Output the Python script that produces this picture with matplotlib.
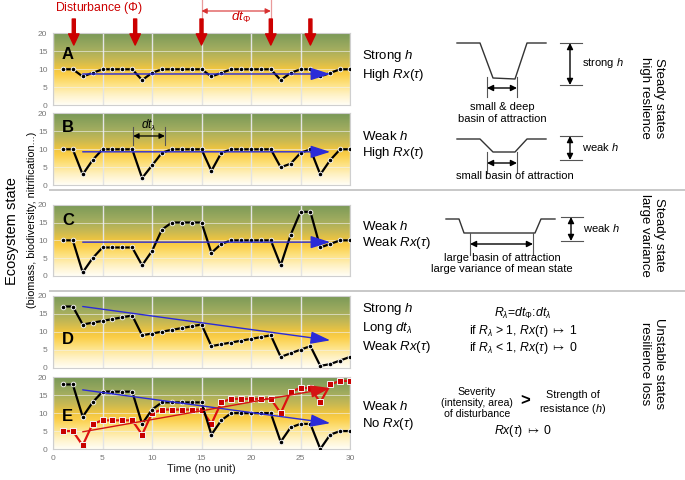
import numpy as np
import matplotlib
matplotlib.use('Agg')
import matplotlib.pyplot as plt
from matplotlib.colors import LinearSegmentedColormap
from matplotlib.transforms import blended_transform_factory

plt.rcParams['font.family'] = ['Liberation Sans', 'DejaVu Sans']
plt.rcParams['mathtext.fontset'] = 'custom'
plt.rcParams['mathtext.rm'] = 'Liberation Sans'
plt.rcParams['mathtext.it'] = 'Liberation Sans:italic'
plt.rcParams['mathtext.bf'] = 'Liberation Sans:bold'
plt.rcParams['mathtext.fallback'] = 'stixsans'

# ---------------- data ----------------
time = list(range(1, 31))
state_A = [10, 10, 8, 9, 10, 10, 10, 10, 7, 9, 10, 10, 10, 10, 10, 8, 9, 10, 10, 10,
           10, 10, 7, 9, 10, 10, 8, 9, 10, 10]
state_B = [10, 10, 3, 7, 10, 10, 10, 10, 2, 5.5, 9, 10, 10, 10, 10, 4, 9, 10, 10, 10,
           10, 10, 5, 6, 9, 10, 3, 7, 10, 10]
state_C = [10, 10, 1, 5, 8, 8, 8, 8, 3, 7, 13, 15, 15, 15, 15, 6.5, 9, 10, 10, 10,
           10, 10, 3, 11.5, 18, 18, 8, 9, 10, 10]
state_D = [17, 17, 12, 12.5, 13, 13.5, 14, 14.5, 9, 9.5, 10, 10.5, 11, 11.5, 12, 6, 6.5,
           7, 7.5, 8, 8.5, 9, 3, 4, 5, 6, 0.5, 1, 2, 3]
state_E_black = [18, 18, 9, 13, 16, 16, 16, 16, 7, 11, 13, 13, 13, 13, 13, 4, 8, 10, 10,
                 10, 10, 10, 2, 6, 7, 7, 0, 4, 5, 5]
state_E_red = [5, 5, 1, 7, 8, 8, 8, 8, 4, 10, 11, 11, 11, 11, 11, 7, 13, 14, 14, 14, 14,
               14, 10, 16, 17, 17, 13, 18, 19, 19]

# trend arrows: (t_start, y_start, t_end, y_end)
trend_A = (3, 8.7, 28, 8.7)
trend_B = (3, 9.3, 28, 9.3)
trend_C = (3, 9.5, 28, 9.5)
trend_D = (3, 17.0, 28, 7.6)
trend_E_black = (3, 16.5, 28, 7.2)
trend_E_red = (3, 4.8, 28, 17.0)

disturb_times = [2.1, 8.3, 15, 22, 26]
dt_phi = (15, 22)
dt_lambda = (8.1, 11.3)

x_ticks = [0, 5, 10, 15, 20, 25, 30]
y_ticks = [0, 5, 10, 15, 20]

# ---------------- figure ----------------
W, H = 685, 480
fig = plt.figure(figsize=(W / 100, H / 100), dpi=100)


def rect(top, bottom, left=53, right=350):
    return [left / W, 1 - bottom / H, (right - left) / W, (bottom - top) / H]


cmap = LinearSegmentedColormap.from_list('bg', [
    (0.0, '#fffef6'), (0.15, '#fff1c2'), (0.3, '#fde07c'), (0.42, '#fbce48'),
    (0.5, '#efc541'), (0.62, '#c9b952'), (0.78, '#a0ac5f'), (1.0, '#789857')])
grad = np.linspace(0, 1, 256).reshape(-1, 1)

panel_rows = [(33.3, 105.3), (113.3, 185.3), (204.7, 276.0), (295.7, 367.7), (377.3, 449.0)]
panel_letters = ['A', 'B', 'C', 'D', 'E']
letter_y = [14, 16, 15.7, 7.7, 9]
panel_data = [state_A, state_B, state_C, state_D, state_E_black]
panel_trend = [trend_A, trend_B, trend_C, trend_D, trend_E_black]

axes = []
for i, (top, bot) in enumerate(panel_rows):
    ax = fig.add_axes(rect(top, bot))
    ax.imshow(grad, extent=[0, 30, 0, 20], aspect='auto', cmap=cmap, origin='lower',
              zorder=0, interpolation='bicubic')
    ax.set_xlim(0, 30)
    ax.set_ylim(0, 20)
    ax.set_xticks(x_ticks)
    ax.set_yticks(y_ticks)
    ax.set_axisbelow(True)
    ax.xaxis.grid(True, color='#e4e4e4', lw=1.0)
    ax.yaxis.grid(True, color='#f2f2f2', lw=0.6, alpha=0.7)
    for s in ax.spines.values():
        s.set_color('#cfcfcf')
        s.set_linewidth(0.8)
    ax.tick_params(length=0, labelsize=6, labelcolor='#777777', pad=4)
    if i < 4:
        ax.tick_params(labelbottom=False)
    ax.plot(time, panel_data[i], color='black', lw=1.6, marker='o', ms=3.3,
            mfc='black', mec='#f4f4f4', mew=0.7, zorder=3)
    t0, y0, t1, y1 = panel_trend[i]
    ax.annotate('', xy=(t1, y1), xytext=(t0, y0),
                arrowprops=dict(arrowstyle='-|>,head_length=1.0,head_width=0.32',
                                color='#2b2bd8', lw=1.0, shrinkA=0, shrinkB=0,
                                mutation_scale=12), zorder=4)
    ax.text(0.9, letter_y[i], panel_letters[i], fontsize=12, fontweight='bold',
            ha='left', va='center', zorder=5)
    axes.append(ax)

axA, axB, axC, axD, axE = axes

# red series in E
axE.plot(time, state_E_red, color='#dd1111', lw=1.6, marker='s', ms=3.9,
         mfc='#c80000', mec='#f4f4f4', mew=0.7, zorder=2.8)
t0, y0, t1, y1 = trend_E_red
axE.annotate('', xy=(t1, y1), xytext=(t0, y0),
             arrowprops=dict(arrowstyle='-|>,head_length=1.0,head_width=0.32',
                             color='#d41414', lw=1.0, shrinkA=0, shrinkB=0,
                             mutation_scale=12), zorder=4)
axE.set_xlabel('Time (no unit)', fontsize=8, labelpad=2, color='#222222')

# dt lambda in B
for t in dt_lambda:
    axB.plot([t, t], [11.2, 16.3], color='#555555', lw=0.8, zorder=4)
axB.annotate('', xy=(dt_lambda[1], 13.7), xytext=(dt_lambda[0], 13.7),
             arrowprops=dict(arrowstyle='<|-|>', color='black', lw=0.9,
                             shrinkA=0, shrinkB=0, mutation_scale=8), zorder=4)
axB.text(sum(dt_lambda) / 2, 16.6, r'$dt_\lambda$', fontsize=8.5, ha='center',
         va='center', zorder=5)

# ---------------- overlay (pixel coordinates) ----------------
ov = fig.add_axes([0, 0, 1, 1], zorder=10)
ov.set_xlim(0, W)
ov.set_ylim(H, 0)
ov.axis('off')
ov.patch.set_alpha(0)

trans = blended_transform_factory(axA.transData, ov.transData)
for t in disturb_times:
    ov.annotate('', xy=(t, 45), xycoords=trans, xytext=(t, 19), textcoords=trans,
                arrowprops=dict(width=2.2, headwidth=7.5, headlength=8,
                                color='#cc0000', shrink=0))
for t in dt_phi:
    ov.plot([t, t], [0, 21], transform=trans, color='#e99a9a', lw=0.9)
ov.annotate('', xy=(dt_phi[1], 11), xycoords=trans, xytext=(dt_phi[0], 11),
            textcoords=trans,
            arrowprops=dict(arrowstyle='<|-|>', color='#d83030', lw=0.8,
                            shrinkA=0, shrinkB=0, mutation_scale=8))
ov.text(sum(dt_phi) / 2 + 0.5, 17.5, r'$dt_\Phi$', transform=trans, color='#cc0000',
        fontsize=9.5, ha='center', va='center')
ov.text(55, 8, r'Disturbance ($\Phi$)', color='#cc0000', fontsize=8.8,
        ha='left', va='center')

# y label
ov.text(12, 231, 'Ecosystem state', rotation=90, fontsize=10.5, ha='center',
        va='center')
ov.text(32, 220, '(biomass, biodiversity, nitrification...)', rotation=90,
        fontsize=7.8, ha='center', va='center')

# separators
for yy in (190, 291):
    ov.plot([50, W], [yy, yy], color='#c8c8c8', lw=1.4)

# left-of-schematic text
ov.text(362, 65.5, 'Strong $h$\nHigh $Rx(\\tau)$', fontsize=9.5, ha='left', va='center')
ov.text(362, 145.5, 'Weak $h$\nHigh $Rx(\\tau)$', fontsize=9.5, ha='left', va='center')
ov.text(362, 235.5, 'Weak $h$\nWeak $Rx(\\tau)$', fontsize=9.5, ha='left', va='center')
ov.text(362, 328, 'Strong $h$\nLong $dt_\\lambda$\nWeak $Rx(\\tau)$', fontsize=9.5,
        ha='left', va='center', linespacing=1.25)
ov.text(362, 416, 'Weak $h$\nNo $Rx(\\tau)$', fontsize=9.5, ha='left', va='center')

# basin schematics
basin_x_A = [457, 480, 493, 515, 527, 546]
basin_y_A = [43, 43, 78, 79, 43, 43]
basin_x_B = [457, 480, 493, 515, 527, 546]
basin_y_B = [139, 139, 152, 152, 139, 139]
basin_x_C = [446, 459, 464, 535, 541, 555]
basin_y_C = [219, 219, 233, 233, 219, 219]
sc = '#333333'
ov.plot(basin_x_A, basin_y_A, color=sc, lw=1.0)
ov.plot(basin_x_B, basin_y_B, color=sc, lw=1.0)
ov.plot(basin_x_C, basin_y_C, color=sc, lw=1.0)


def width_marker(x0, x1, ytop, ybot, yarr):
    for x in (x0, x1):
        ov.plot([x, x], [ytop, ybot], color='#555555', lw=0.8)
    ov.annotate('', xy=(x1, yarr), xytext=(x0, yarr),
                arrowprops=dict(arrowstyle='<|-|>', color='black', lw=1.0,
                                shrinkA=0, shrinkB=0, mutation_scale=9))


def height_marker(x, ytop, ybot, label):
    for y in (ytop, ybot):
        ov.plot([x - 10, x + 12], [y, y], color='#555555', lw=0.8)
    ov.annotate('', xy=(x, ybot), xytext=(x, ytop),
                arrowprops=dict(arrowstyle='<|-|>', color='black', lw=1.0,
                                shrinkA=0, shrinkB=0, mutation_scale=9))
    ov.text(x + 12, (ytop + ybot) / 2 - 1, label, fontsize=8, ha='left', va='center')


width_marker(487, 517, 77, 97, 88)
width_marker(487, 517, 152, 173, 163)
width_marker(470, 533, 233, 255, 244)
height_marker(570, 43, 85, 'strong $h$')
height_marker(570, 136, 160, 'weak $h$')
height_marker(571, 217, 241, 'weak $h$')

ov.text(502, 113, 'small & deep\nbasin of attraction', fontsize=8, ha='center',
        va='center', multialignment='center')
ov.text(515, 176, 'small basin of attraction', fontsize=8, ha='center', va='center')
ov.text(502, 263.5, 'large basin of attraction\nlarge variance of mean state',
        fontsize=8, ha='center', va='center', multialignment='center')

# right rotated labels
ov.text(652, 98, 'Steady states\nhigh reslience', rotation=-90, fontsize=9.5,
        ha='center', va='center', multialignment='center')
ov.text(652, 235, 'Steady state\nlarge variance', rotation=-90, fontsize=9.5,
        ha='center', va='center', multialignment='center')
ov.text(652, 364, 'Unstable states\nresilience loss', rotation=-90, fontsize=9.5,
        ha='center', va='center', multialignment='center')

# formulas
ov.text(523, 313, r'$R_\lambda$=$dt_\Phi$:$dt_\lambda$', fontsize=8.8, ha='center',
        va='center')
ov.text(523, 331, r'if $R_\lambda$ > 1, $Rx(\tau)$ $\mapsto$ 1', fontsize=8.8,
        ha='center', va='center')
ov.text(523, 348, r'if $R_\lambda$ < 1, $Rx(\tau)$ $\mapsto$ 0', fontsize=8.8,
        ha='center', va='center')
ov.text(477, 403, 'Severity\n(intensity, area)\nof disturbance', fontsize=7.6,
        ha='center', va='center', multialignment='center', linespacing=1.1)
ov.text(525, 401, '>', fontsize=12, fontweight='bold', ha='center', va='center')
ov.text(573, 403, 'Strength of\nresistance ($h$)', fontsize=7.8, ha='center',
        va='center', multialignment='center')
ov.text(523, 431, r'$Rx(\tau)$ $\mapsto$ 0', fontsize=8.8, ha='center', va='center')

fig.savefig('out.png', dpi=100)
